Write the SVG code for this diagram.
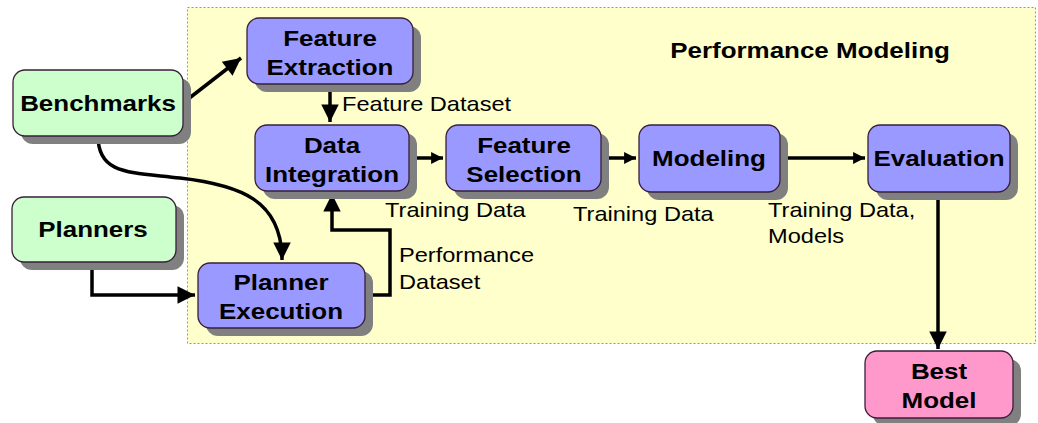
<svg xmlns="http://www.w3.org/2000/svg" width="1038" height="423" viewBox="0 0 1038 423">
<defs>
<marker id="ah" viewBox="0 0 10 10" refX="10" refY="5" markerWidth="6" markerHeight="5" markerUnits="strokeWidth" orient="auto"><path d="M0,0 L10,5 L0,10 z" fill="#000"/></marker>
<marker id="ahs" viewBox="0 0 10 10" refX="10" refY="5" markerWidth="5" markerHeight="3.4" markerUnits="strokeWidth" orient="auto"><path d="M0,0 L10,5 L0,10 z" fill="#000"/></marker>
</defs>
<style>
.sh{fill:#808080}
.bx{stroke:#3a1f3a;stroke-width:1.3}
.blue{fill:#9999ff}
.green{fill:#ccffcc}
.pink{fill:#ff99cc}
.t{font-family:"Liberation Sans",Arial,sans-serif;font-weight:bold;font-size:22px;text-anchor:middle;fill:#000}
.l{font-family:"Liberation Sans",Arial,sans-serif;font-size:20px;fill:#000}
.c{fill:none;stroke:#000;stroke-width:3.5}
</style>
<rect x="187.5" y="7.5" width="848" height="336" fill="#ffffcc" stroke="#9a8ab8" stroke-width="1" stroke-dasharray="2,2"/>
<text transform="translate(810,58) scale(1.18,1)" class="t">Performance Modeling</text>

<g id="connectors">
<path class="c" d="M183,103 L241,58" marker-end="url(#ah)"/>
<path class="c" d="M330,84 L330,122" marker-end="url(#ah)"/>
<path class="c" d="M98,136 C98,175 130,172 180,178 C240,185 282,200 282,260" marker-end="url(#ah)"/>
<path class="c" d="M92,262 L92,295 L195,295" marker-end="url(#ah)"/>
<path class="c" d="M365,295 L390,295 L390,230 L332,230 L332,194" marker-end="url(#ah)"/>
<path class="c" d="M408,158 L443,158" marker-end="url(#ahs)"/>
<path class="c" d="M601,158 L636,158" marker-end="url(#ahs)"/>
<path class="c" d="M780,158 L865,158" marker-end="url(#ahs)"/>
<path class="c" d="M938,192 L938,349" marker-end="url(#ah)"/>
</g>

<text transform="translate(342,111) scale(1.18,1)" class="l">Feature Dataset</text>
<text transform="translate(385,217) scale(1.18,1)" class="l">Training Data</text>
<text transform="translate(573,221) scale(1.18,1)" class="l">Training Data</text>
<text transform="translate(768,217) scale(1.18,1)" class="l">Training Data,</text>
<text transform="translate(768,243) scale(1.18,1)" class="l">Models</text>
<text transform="translate(399,262) scale(1.18,1)" class="l">Performance</text>
<text transform="translate(399,289) scale(1.18,1)" class="l">Dataset</text>

<g id="benchmarks">
<rect class="sh" x="21" y="78" width="170" height="66" rx="12"/>
<rect class="bx green" x="13" y="70" width="170" height="66" rx="12"/>
<text transform="translate(98,111) scale(1.18,1)" class="t">Benchmarks</text>
</g>
<g id="planners">
<rect class="sh" x="20" y="205" width="164" height="65" rx="12"/>
<rect class="bx green" x="12" y="197" width="164" height="65" rx="12"/>
<text transform="translate(93,237) scale(1.18,1)" class="t">Planners</text>
</g>
<g id="feature-extraction">
<rect class="sh" x="255" y="26" width="166" height="66" rx="12"/>
<rect class="bx blue" x="247" y="18" width="166" height="66" rx="12"/>
<text transform="translate(330,46) scale(1.18,1)" class="t">Feature</text>
<text transform="translate(330,75) scale(1.18,1)" class="t">Extraction</text>
</g>
<g id="data-integration">
<rect class="sh" x="263" y="133" width="154" height="66" rx="12"/>
<rect class="bx blue" x="255" y="125" width="154" height="66" rx="12"/>
<text transform="translate(332,153) scale(1.18,1)" class="t">Data</text>
<text transform="translate(332,182) scale(1.18,1)" class="t">Integration</text>
</g>
<g id="planner-execution">
<rect class="sh" x="206" y="271" width="167" height="65" rx="12"/>
<rect class="bx blue" x="198" y="263" width="167" height="65" rx="12"/>
<text transform="translate(281,290) scale(1.18,1)" class="t">Planner</text>
<text transform="translate(281,319) scale(1.18,1)" class="t">Execution</text>
</g>
<g id="feature-selection">
<rect class="sh" x="454" y="133" width="155" height="66" rx="12"/>
<rect class="bx blue" x="446" y="125" width="155" height="66" rx="12"/>
<text transform="translate(524,153) scale(1.18,1)" class="t">Feature</text>
<text transform="translate(524,182) scale(1.18,1)" class="t">Selection</text>
</g>
<g id="modeling">
<rect class="sh" x="647" y="133" width="141" height="67" rx="12"/>
<rect class="bx blue" x="639" y="125" width="141" height="67" rx="12"/>
<text transform="translate(709,166) scale(1.18,1)" class="t">Modeling</text>
</g>
<g id="evaluation">
<rect class="sh" x="876" y="133" width="142" height="67" rx="12"/>
<rect class="bx blue" x="868" y="125" width="142" height="67" rx="12"/>
<text transform="translate(939,166) scale(1.18,1)" class="t">Evaluation</text>
</g>
<g id="best-model">
<rect class="sh" x="873" y="359" width="148" height="67" rx="12"/>
<rect class="bx pink" x="865" y="351" width="148" height="67" rx="12"/>
<text transform="translate(939,379) scale(1.18,1)" class="t">Best</text>
<text transform="translate(939,408) scale(1.18,1)" class="t">Model</text>
</g>
</svg>
